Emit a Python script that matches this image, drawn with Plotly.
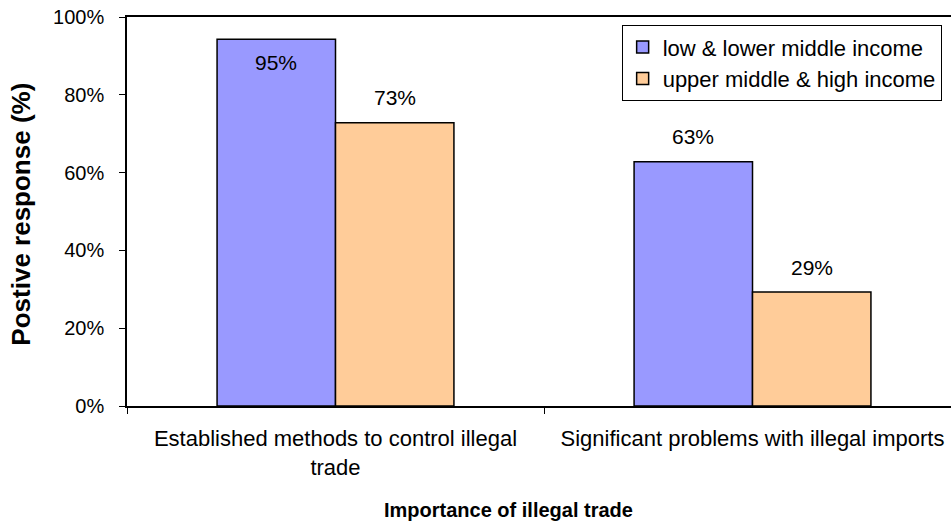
import plotly.graph_objects as go

categories = ["Established methods to control illegal<br>trade", "Significant problems with illegal imports"]
series_names = ["low & lower middle income", "upper middle & high income"]
low_values = [94.3, 62.8]
high_values = [72.8, 29.3]
low_labels = ["95%", "63%"]
high_labels = ["73%", "29%"]
colors = ["#9999FF", "#FFCC99"]
y_ticks = [0, 20, 40, 60, 80, 100]
y_tick_text = ["0%", "20%", "40%", "60%", "80%", "100%"]
x_title = "Importance of illegal trade"
y_title = "Postive response (%)"

FONT = "Liberation Sans, Arial, sans-serif"

fig = go.Figure()
for i, (name, vals, col) in enumerate(zip(series_names, [low_values, high_values], colors)):
    fig.add_trace(go.Bar(
        x=categories, y=vals, name=name, legendgroup=f"g{i}",
        marker=dict(color=col, line=dict(color="black", width=1.5)),
        offsetgroup=str(i),
    ))

# data labels
offsets = [-0.1425, 0.1425]
for i, (vals, labs) in enumerate([(low_values, low_labels), (high_values, high_labels)]):
    for c, (v, t) in enumerate(zip(vals, labs)):
        inside = v > 90
        fig.add_annotation(
            x=c + offsets[i], y=v, text=t, showarrow=False,
            xref="x", yref="y", yanchor="middle",
            yshift=-23 if inside else 25,
            font=dict(family=FONT, size=21, color="black"),
        )

# axis titles
fig.add_annotation(
    x=0.4624, y=-0.267, xref="paper", yref="paper", showarrow=False,
    text=f"<b>{x_title}</b>", xanchor="center", yanchor="middle",
    font=dict(family=FONT, size=20, color="black"),
)
fig.add_annotation(
    x=-0.1286, y=0.492, xref="paper", yref="paper", showarrow=False,
    text=f"<b>{y_title}</b>", textangle=-90, xanchor="center", yanchor="middle",
    font=dict(family=FONT, size=26, color="black"),
)

fig.update_layout(
    width=951, height=523,
    margin=dict(l=127, r=0, t=17, b=117, autoexpand=False),
    paper_bgcolor="white", plot_bgcolor="white",
    barmode="group", bargap=0.432, bargroupgap=0,
    font=dict(family=FONT, size=20, color="black"),
    showlegend=True,
    legend=dict(
        x=0.6003, y=0.979, xanchor="left", yanchor="top",
        bordercolor="black", borderwidth=1, bgcolor="white",
        font=dict(family=FONT, size=22, color="black"),
        traceorder="grouped", tracegroupgap=0,
    ),
    xaxis=dict(
        type="category", range=[-0.5, 1.476],
        showline=True, linecolor="black", linewidth=1.5, mirror=True,
        ticks="outside", tickson="boundaries", ticklen=6, tickcolor="black",
        tickfont=dict(family=FONT, size=22),
        ticklabelstandoff=12,
        showgrid=False,
    ),
    yaxis=dict(
        range=[0, 100], tickvals=y_ticks, ticktext=y_tick_text,
        showline=True, linecolor="black", linewidth=1.5,
        ticks="outside", ticklen=6, tickcolor="black",
        tickfont=dict(family=FONT, size=20),
        ticklabelstandoff=11,
        showgrid=False, zeroline=False,
    ),
)

fig.write_html("out.html", config={"displayModeBar": False},
               post_script="document.body.style.margin='0';")
